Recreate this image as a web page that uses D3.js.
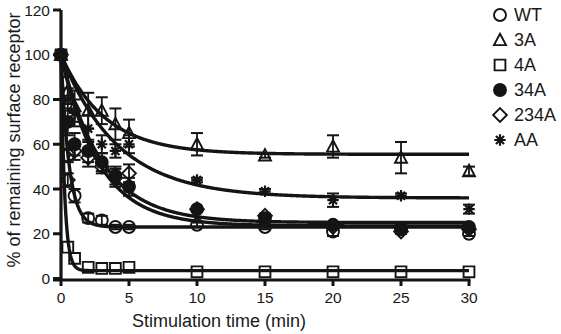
<!DOCTYPE html>
<html><head><meta charset="utf-8">
<script src="https://cdn.jsdelivr.net/npm/d3@7"></script>
<style>body{margin:0;background:#fff}svg{display:block}text{font-family:Arial,"Liberation Sans",sans-serif;fill:#1a1a1a}</style>
</head><body><svg id="c" width="561" height="334"></svg>
<script>
const times = [0, 0.5, 1, 2, 3, 4, 5, 10, 15, 20, 25, 30];
const seriesNames = ["WT", "3A", "4A", "34A", "234A", "AA"];
const valWT   = [100, 55, 37, 27, 26, 23, 23, 24, 23, 21, 22, 20];
const val3A   = [100, 84, 77, 75, 75, 69, 65, 60, 55, 59, 54, 48];
const val4A   = [100, 14, 9, 5, 4.5, 4.5, 5, 3, 3, 3, 3, 3];
const val34A  = [100, 70, 60, 57, 52, 46, 41, 31, 27, 24, 22, 23];
const val234A = [100, 44, 57, 54, 50, 45, 47, 31, 28, 23, 21, 22];
const valAA   = [100, 80, 74, 67, 60, 57, 60, 44, 39, 35, 37, 31];
const errWT   = [0, 3, 3, 2, 2, 1, 1, 1, 1, 2, 1, 1];
const err3A   = [0, 6, 7, 8, 6, 7, 6, 5, 1, 5, 7, 2];
const err4A   = [0, 0, 0, 0, 0, 0, 0, 0, 0, 0, 0, 0];
const err34A  = [0, 6, 5, 5, 4, 4, 4, 1, 1, 1, 2, 1];
const err234A = [0, 3, 4, 4, 3, 4, 4, 1, 1, 1, 1, 1];
const errAA   = [0, 5, 6, 6, 4, 3, 4, 1, 1, 3, 1, 2];
// one-phase decay fit: plateau + (100 - plateau) * exp(-k t)
const fitPlateau = [23, 55.5, 3.5, 25, 23.5, 36];
const fitRate    = [1.7, 0.31, 3.8, 0.335, 0.36, 0.24];
const xTicks = [0, 5, 10, 15, 20, 25, 30];
const yTicks = [0, 20, 40, 60, 80, 100, 120];

const values = [valWT, val3A, val4A, val34A, val234A, valAA];
const errs = [errWT, err3A, err4A, err34A, err234A, errAA];

const svg = d3.select("#c");
const x = d3.scaleLinear().domain([0, 30]).range([61, 469]);
const y = d3.scaleLinear().domain([0, 120]).range([278.5, 10]);
const ink = "#141414";

function symbolPath(name, s) {
  const h = s / 2;
  switch (name) {
    case "WT": return d3.symbol(d3.symbolCircle, Math.PI * h * h)();
    case "3A": return `M0,${-h * 1.05}L${h},${h * 0.85}L${-h},${h * 0.85}Z`;
    case "4A": return `M${-h * 0.9},${-h * 0.9}H${h * 0.9}V${h * 0.9}H${-h * 0.9}Z`;
    case "34A": return d3.symbol(d3.symbolCircle, Math.PI * h * h)();
    case "234A": return `M0,${-h * 1.15}L${h * 1.15},0L0,${h * 1.15}L${-h * 1.15},0Z`;
    case "AA": {
      const r = h * 0.95, d = r * 0.7071;
      return `M0,${-r}V${r}M${-r},0H${r}M${-d},${-d}L${d},${d}M${-d},${d}L${d},${-d}`;
    }
  }
}
function drawSymbol(g, name, cx, cy, s, bg) {
  const filled = name === "34A";
  g.append("path").attr("d", symbolPath(name, s)).attr("transform", `translate(${cx},${cy})`)
    .attr("fill", filled ? ink : bg)
    .attr("stroke", ink).attr("stroke-width", name === "AA" ? 2.2 : 1.9);
}

// error bars + points (under the fitted curves)
const gp = svg.append("g");
seriesNames.forEach((n, i) => {
  times.forEach((t, j) => {
    const e = errs[i][j];
    if (e > 0) {
      const cx = x(t), v = values[i][j];
      gp.append("line").attr("x1", cx).attr("x2", cx).attr("y1", y(v + e)).attr("y2", y(v - e)).attr("stroke", ink).attr("stroke-width", 1.8);
      [v + e, v - e].forEach(vv => gp.append("line").attr("x1", cx - 6).attr("x2", cx + 6).attr("y1", y(vv)).attr("y2", y(vv)).attr("stroke", ink).attr("stroke-width", 2));
    }
  });
});
seriesNames.forEach((n, i) => {
  times.forEach((t, j) => drawSymbol(gp, n, x(t), y(values[i][j]), 12, "none"));
});

// fitted curves
const tSamples = d3.range(0, 30.001, 0.05);
seriesNames.forEach((n, i) => {
  const line = d3.line().x(t => x(t)).y(t => y(fitPlateau[i] + (100 - fitPlateau[i]) * Math.exp(-fitRate[i] * t)));
  svg.append("path").attr("d", line(tSamples)).attr("fill", "none").attr("stroke", ink).attr("stroke-width", 3.4);
});

// axes
const ga = svg.append("g");
ga.append("line").attr("x1", x(0)).attr("x2", x(0)).attr("y1", y(120)).attr("y2", 280).attr("stroke", ink).attr("stroke-width", 3.2);
ga.append("line").attr("x1", 53).attr("x2", x(30) + 1.5).attr("y1", 280).attr("y2", 280).attr("stroke", ink).attr("stroke-width", 3.2);
yTicks.forEach(v => {
  ga.append("line").attr("x1", x(0) - 8).attr("x2", x(0)).attr("y1", y(v)).attr("y2", y(v)).attr("stroke", ink).attr("stroke-width", 3);
  ga.append("text").attr("x", 50).attr("y", y(v)).attr("dy", "0.36em").attr("text-anchor", "end").attr("font-size", 15.5).text(v);
});
xTicks.forEach(v => {
  ga.append("line").attr("x1", x(v)).attr("x2", x(v)).attr("y1", 280).attr("y2", 286).attr("stroke", ink).attr("stroke-width", 3);
  ga.append("text").attr("x", x(v)).attr("y", 303).attr("text-anchor", "middle").attr("font-size", 15.5).text(v);
});
svg.append("text").attr("x", 219).attr("y", 327).attr("text-anchor", "middle").attr("font-size", 18).text("Stimulation time (min)");
svg.append("text").attr("transform", "translate(20,140) rotate(-90)").attr("text-anchor", "middle").attr("font-size", 18).text("% of remaining surface receptor");

// legend
const gl = svg.append("g");
seriesNames.forEach((n, i) => {
  const cy = 15 + i * 25;
  drawSymbol(gl, n, 500, cy, 12, "#fff");
  gl.append("text").attr("x", 514).attr("y", cy).attr("dy", "0.36em").attr("font-size", 18).text(n);
});
</script></body></html>
